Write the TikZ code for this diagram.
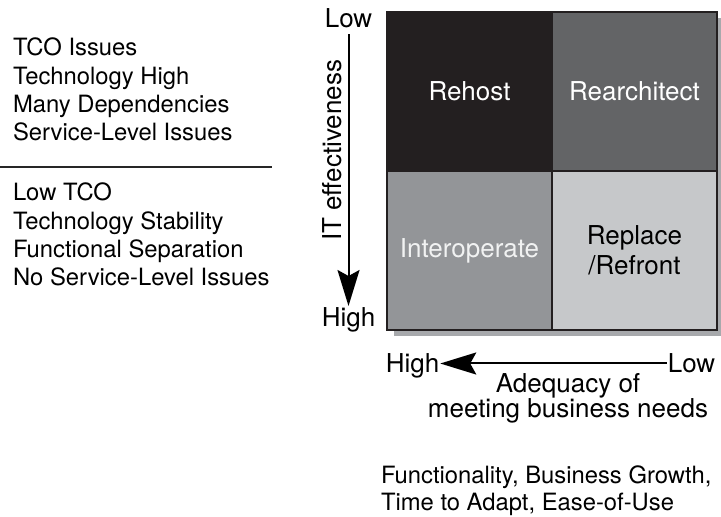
\documentclass[tikz,border=0pt]{standalone}
\usepackage{fontspec}
\setmainfont{TeX Gyre Heros}
\usepackage{tikz}
\usetikzlibrary{arrows.meta}
\usetikzlibrary{positioning}
\usetikzlibrary{backgrounds}

\definecolor{rehostgray}{HTML}{231F20}
\definecolor{rearchgray}{HTML}{636466}
\definecolor{interopgray}{HTML}{939598}
\definecolor{replacegray}{HTML}{C6C8CA}
\definecolor{shadowgray}{HTML}{A7A9AC}
\definecolor{interoptext}{HTML}{F1F2F2}

\begin{document}
\begin{tikzpicture}[x=0.5pt, y=-0.5pt, >={Stealth[length=18pt,width=11pt,inset=3pt]}, line width=1pt]
            \tikzstyle{cell}=[draw=rehostgray, line width=0.7pt, minimum width=82.5pt, minimum height=79.5pt, inner sep=0pt, outer sep=0pt, align=center, font=\fontsize{13}{15}\selectfont]
            \tikzstyle{axislabel}=[inner sep=0pt, text height=10pt, text depth=0.7pt, font=\fontsize{13}{15}\selectfont]
            \tikzstyle{listtext}=[align=left, anchor=west, inner sep=0pt, font=\fontsize{11.9}{14.15}\selectfont]

            \useasboundingbox (0,0) rectangle (721,517);

            \node[listtext] (issues) at (12,89.5) {TCO Issues\\Technology High\\Many Dependencies\\Service-Level Issues};
            \node[listtext] (noissues) at (12,234.5) {Low TCO\\Technology Stability\\Functional Separation\\No Service-Level Issues};
            \coordinate (sepl) at (0,167);
            \coordinate (sepr) at (272,167);
            \draw[line width=0.8pt, draw=black!85] (sepl) -- (sepr);

            \node[cell, fill=rehostgray, text=white] (rehost) at (469.5,91.5) {Rehost};
            \node[cell, fill=rearchgray, text=white] (rearch) [right=0pt of rehost] {Rearchitect};
            \node[cell, fill=interopgray, text=interoptext] (interop) [below=0pt of rehost] {Interoperate};
            \node[cell, fill=replacegray] (replace) [right=0pt of interop] {Replace\\/Refront};
            \begin{scope}[on background layer]
                \fill[shadowgray] ([shift={(7,6)}]rehost.north west) rectangle ([shift={(7,6)}]replace.south east);
            \end{scope}

            \node[axislabel] (vlow) at (348.5,18.7) {Low};
            \node[axislabel] (vhigh) at (348.5,317.7) {High};
            \node[rotate=90, inner sep=0pt, font=\fontsize{13}{15}\selectfont] (iteff) at (332,150.5) {IT effectiveness};
            \draw[->, shorten <=2pt] (vlow) -- (vhigh);

            \node[axislabel] (hhigh) at (412.5,363.5) {High};
            \node[axislabel] (hlow) at (691.5,363.5) {Low};
            \draw[->] (hlow) -- (hhigh);
            \node[align=center, inner sep=0pt, font=\fontsize{13}{12.5}\selectfont] (adequacy) at (568,398.8) {Adequacy of\\meeting business needs};

            \node[listtext, font=\fontsize{11.9}{13.5}\selectfont] (needs) at (380,490.8) {Functionality, Business Growth,\\Time to Adapt, Ease-of-Use};
        \end{tikzpicture}
\end{document}
